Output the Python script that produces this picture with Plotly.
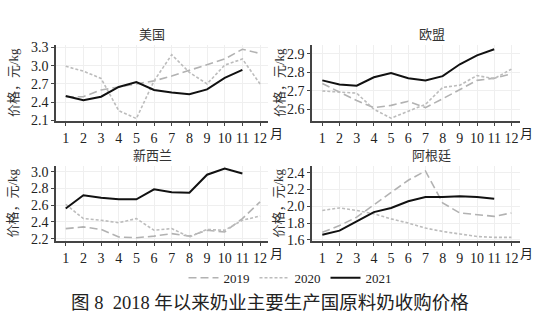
import plotly.graph_objects as go

W, H = 543, 331

months = list(range(1, 13))
month_labels = [str(m) for m in months]
years = ["2019", "2020", "2021"]

# 美国
us_2019 = [2.49, 2.49, 2.60, 2.65, 2.71, 2.75, 2.83, 2.92, 3.02, 3.11, 3.27, 3.20]
us_2020 = [2.99, 2.91, 2.79, 2.26, 2.13, 2.75, 3.18, 2.89, 2.70, 3.01, 3.11, 2.70]
us_2021 = [2.50, 2.43, 2.49, 2.65, 2.73, 2.60, 2.56, 2.53, 2.61, 2.80, 2.93]
# 欧盟
eu_2019 = [2.739, 2.695, 2.647, 2.609, 2.621, 2.643, 2.609, 2.657, 2.708, 2.756, 2.768, 2.791]
eu_2020 = [2.699, 2.692, 2.687, 2.600, 2.552, 2.590, 2.626, 2.718, 2.730, 2.782, 2.765, 2.817]
eu_2021 = [2.756, 2.734, 2.727, 2.773, 2.796, 2.768, 2.756, 2.779, 2.843, 2.891, 2.924]
# 新西兰
nz_2019 = [2.32, 2.34, 2.31, 2.22, 2.21, 2.23, 2.26, 2.23, 2.30, 2.28, 2.44, 2.64]
nz_2020 = [2.61, 2.44, 2.42, 2.39, 2.44, 2.30, 2.32, 2.22, 2.31, 2.30, 2.42, 2.47]
nz_2021 = [2.56, 2.72, 2.69, 2.67, 2.67, 2.79, 2.755, 2.75, 2.965, 3.04, 2.98]
# 阿根廷
ar_2019 = [1.69, 1.77, 1.87, 2.02, 2.16, 2.31, 2.42, 2.04, 1.92, 1.90, 1.88, 1.92]
ar_2020 = [1.95, 1.98, 1.95, 1.91, 1.85, 1.80, 1.74, 1.70, 1.67, 1.64, 1.63, 1.63]
ar_2021 = [1.66, 1.71, 1.82, 1.93, 1.98, 2.06, 2.11, 2.11, 2.12, 2.11, 2.09]

panel_titles = ["美国", "欧盟", "新西兰", "阿根廷"]
panel_series = [
    (us_2019, us_2020, us_2021),
    (eu_2019, eu_2020, eu_2021),
    (nz_2019, nz_2020, nz_2021),
    (ar_2019, ar_2020, ar_2021),
]
y_ticks = [
    [2.1, 2.4, 2.7, 3.0, 3.3],
    [2.6, 2.7, 2.8, 2.9],
    [2.2, 2.4, 2.6, 2.8, 3.0],
    [1.6, 1.8, 2.0, 2.2, 2.4],
]
y_ranges = [[2.085, 3.34], [2.535, 2.947], [2.17, 3.07], [1.585, 2.48]]
y_title = "价格，元/kg"
x_unit = "月"
main_title = "图 8  2018 年以来奶业主要生产国原料奶收购价格"

# layout geometry (pixels)
px_x = lambda p: p / W
px_y = lambda p: 1 - p / H
x_domains = [[56, 268], [312, 520], [56, 268], [312, 520]]
y_domains = [[41.5, 120.7], [41.5, 120.7], [167, 245], [167, 245]]
x_ranges = [[0.45, 12.45], [0.4, 12.5], [0.45, 12.45], [0.4, 12.5]]

styles = [
    dict(color="#b2b2b2", width=1.6, dash="8px,4px"),
    dict(color="#bcbcbc", width=1.6, dash="3px,2px"),
    dict(color="#111111", width=2.0, dash="solid"),
]

serif = "Liberation Serif, Noto Sans CJK SC"
cjk = "Noto Sans CJK SC"

fig = go.Figure()
layout = {}
for i in range(4):
    xa = "x" if i == 0 else f"x{i+1}"
    ya = "y" if i == 0 else f"y{i+1}"
    for k, yr in enumerate(years):
        vals = panel_series[i][k]
        fig.add_trace(go.Scatter(
            x=months[:len(vals)], y=vals, mode="lines", name=yr,
            line=styles[k], xaxis=xa, yaxis=ya,
            showlegend=(i == 0), legendrank=k,
        ))
    xk = "xaxis" if i == 0 else f"xaxis{i+1}"
    yk = "yaxis" if i == 0 else f"yaxis{i+1}"
    layout[xk] = dict(
        domain=[px_x(x_domains[i][0]), px_x(x_domains[i][1])],
        range=x_ranges[i], anchor=ya,
        tickvals=months, ticktext=month_labels,
        ticks="outside", ticklen=3, tickcolor="#444",
        showline=True, linecolor="#444", linewidth=1.5,
        showgrid=True, gridcolor="#efefef", gridwidth=1,
        zeroline=False, tickfont=dict(family=serif, size=14, color="#222"),
    )
    layout[yk] = dict(
        domain=[px_y(y_domains[i][1]), px_y(y_domains[i][0])],
        range=y_ranges[i], anchor=xa,
        tickvals=y_ticks[i], ticktext=[f"{v:.1f}" for v in y_ticks[i]],
        ticks="outside", ticklen=3, tickcolor="#444",
        showline=True, linecolor="#444", linewidth=1.5,
        showgrid=True, gridcolor="#efefef", gridwidth=1,
        zeroline=False, tickfont=dict(family=serif, size=14, color="#222"),
    )

annotations = []
title_pos = [(152, 30), (432, 30), (152, 155), (431, 155)]
ytitle_pos = [(13, 81), (279, 81), (13, 206), (279, 206)]
unit_pos = [(276, 132), (526, 132), (276, 257), (526, 257)]
for i in range(4):
    annotations.append(dict(text=panel_titles[i], x=px_x(title_pos[i][0]), y=px_y(title_pos[i][1]),
                            xref="paper", yref="paper", showarrow=False,
                            xanchor="center", yanchor="middle", borderpad=0,
                            font=dict(family=cjk, size=13, color="#333")))
    annotations.append(dict(text=y_title, x=px_x(ytitle_pos[i][0]), y=px_y(ytitle_pos[i][1]),
                            xref="paper", yref="paper", showarrow=False, textangle=-90,
                            xanchor="center", yanchor="middle",
                            font=dict(family=serif, size=13, color="#333")))
    annotations.append(dict(text=x_unit, x=px_x(unit_pos[i][0]), y=px_y(unit_pos[i][1]),
                            xref="paper", yref="paper", showarrow=False,
                            xanchor="center", yanchor="middle",
                            font=dict(family=cjk, size=13, color="#222")))
annotations.append(dict(text=main_title, x=px_x(270), y=px_y(309), xref="paper", yref="paper",
                        showarrow=False, xanchor="center", yanchor="middle",
                        font=dict(family=serif, size=18.5, color="#222")))

fig.update_layout(
    width=W, height=H, margin=dict(l=0, r=0, t=0, b=0),
    paper_bgcolor="white", plot_bgcolor="white",
    annotations=annotations,
    legend=dict(orientation="h", x=px_x(290), y=px_y(283), xanchor="center", yanchor="middle",
                font=dict(family=serif, size=13, color="#222"), bgcolor="rgba(0,0,0,0)",
                traceorder="normal"),
    **layout,
)
fig.write_html("out.html")
